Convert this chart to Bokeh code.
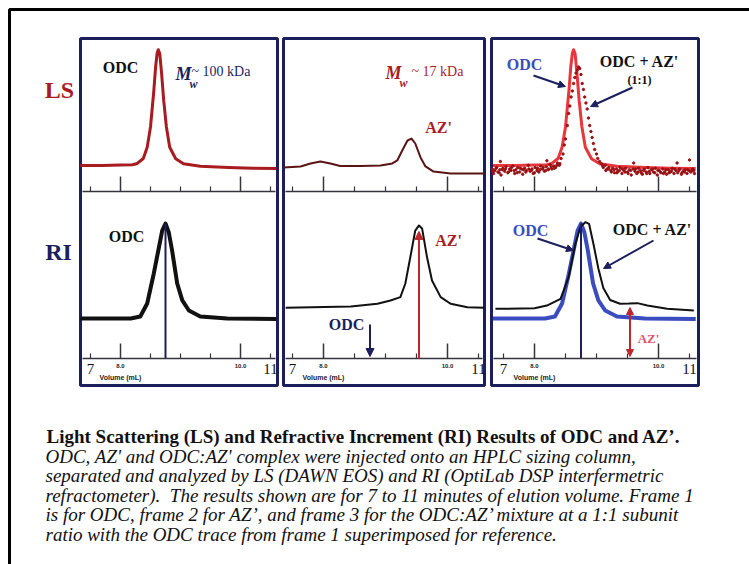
import numpy as np
from bokeh.plotting import figure
from bokeh.models import Range1d, LinearAxis, FixedTicker, NumeralTickFormatter, Arrow, NormalHead
from bokeh.core.properties import value
from bokeh.embed import file_html
from bokeh.resources import INLINE

# ---------------- data ----------------
MAJOR_TICKS = [8.0, 10.0]
MINOR_TICKS = [7.5, 8.5, 9.0, 9.5, 10.5]
END_LABELS = ["7", "11"]
END_LABEL_POS = [7.5, 10.5]
AXIS_TITLE = "Volume (mL)"

# frame 1: ODC  (volume in mL, relative signal)
ODC_LS_V = [7.33, 7.70, 8.00, 8.20, 8.28, 8.38, 8.445, 8.50, 8.555, 8.585, 8.61, 8.63,
            8.655, 8.685, 8.72, 8.765, 8.82, 8.92, 9.05, 9.33, 9.80, 10.20, 10.60]
ODC_LS_S = [0.173, 0.173, 0.176, 0.178, 0.187, 0.22, 0.295, 0.43, 0.67, 0.83, 0.92, 0.945,
            0.918, 0.787, 0.607, 0.43, 0.295, 0.218, 0.185, 0.169, 0.16, 0.155, 0.153]
ODC_RI_V = [7.33, 8.17, 8.33, 8.445, 8.555, 8.64, 8.695, 8.75, 8.805, 8.86, 8.945, 9.03,
            9.14, 9.33, 9.78, 10.60]
ODC_RI_S = [0.267, 0.267, 0.28, 0.367, 0.567, 0.74, 0.853, 0.90, 0.84, 0.72, 0.50, 0.387,
            0.32, 0.28, 0.267, 0.263]

# frame 2: AZ'
AZ_LS_V = [7.36, 7.63, 7.79, 7.95, 8.11, 8.27, 8.60, 8.92, 9.11, 9.19, 9.27, 9.355, 9.42,
           9.48, 9.565, 9.645, 9.775, 10.05, 10.60]
AZ_LS_S = [0.16, 0.167, 0.187, 0.20, 0.187, 0.17, 0.17, 0.173, 0.187, 0.207, 0.273, 0.34,
           0.353, 0.32, 0.227, 0.167, 0.133, 0.12, 0.12]
AZ_RI_V = [7.39, 8.44, 8.87, 9.08, 9.24, 9.32, 9.40, 9.48, 9.54, 9.59, 9.67, 9.75, 9.89,
           10.05, 10.32, 10.59]
AZ_RI_S = [0.338, 0.347, 0.365, 0.387, 0.409, 0.50, 0.675, 0.853, 0.887, 0.867, 0.675, 0.52,
           0.409, 0.365, 0.342, 0.338]

# frame 3: ODC + AZ' (1:1) -- light scattering points
MIX_LS_V = [7.32, 7.34, 7.36, 7.39, 7.41, 7.44, 7.45, 7.46, 7.49, 7.52,
            7.54, 7.57, 7.60, 7.62, 7.65, 7.68, 7.70, 7.73, 7.76, 7.79,
            7.81, 7.84, 7.87, 7.90, 7.93, 7.96, 7.98, 8.01, 8.04, 8.07,
            8.10, 8.13, 8.16, 8.19, 8.20, 8.22, 8.25, 8.28, 8.31, 8.34,
            8.37, 8.40, 8.43, 8.46, 8.48, 8.50, 8.53, 8.55, 8.57, 8.59,
            8.61, 8.63, 8.65, 8.67, 8.69, 8.71, 8.73, 8.75, 8.77, 8.79,
            8.81, 8.83, 8.85, 8.87, 8.89, 8.91, 8.93, 8.95, 8.97, 9.00,
            9.02, 9.05, 9.08, 9.11, 9.14, 9.17, 9.20, 9.23, 9.26, 9.29,
            9.32, 9.35, 9.38, 9.41, 9.44, 9.47, 9.50, 9.53, 9.56, 9.59,
            9.60, 9.62, 9.65, 9.68, 9.71, 9.74, 9.77, 9.80, 9.83, 9.86,
            9.89, 9.92, 9.95, 9.98, 10.01, 10.04, 10.07, 10.10, 10.13, 10.16,
            10.19, 10.22, 10.25, 10.28, 10.30, 10.31, 10.34, 10.37, 10.40, 10.43,
            10.46, 10.49, 10.50, 10.52, 10.55, 10.58,
            7.33, 7.38, 7.43, 7.48, 7.53, 7.58, 7.63, 7.67, 7.72, 7.77, 7.82, 7.86,
            7.91, 7.95, 8.00, 8.05, 8.09, 8.14, 8.18, 8.23, 8.27, 8.32, 8.36, 8.41,
            9.10, 9.15, 9.19, 9.24, 9.28, 9.33, 9.37, 9.42, 9.46, 9.51,
            9.55, 9.63, 9.67, 9.72, 9.76, 9.81, 9.85, 9.90, 9.94, 9.99,
            10.03, 10.08, 10.12, 10.17, 10.21, 10.26, 10.33, 10.38, 10.42, 10.47,
            10.53, 10.57]
MIX_LS_S = [0.150, 0.120, 0.140, 0.160, 0.130, 0.145, 0.200, 0.110, 0.155, 0.135,
            0.165, 0.125, 0.150, 0.140, 0.170, 0.120, 0.145, 0.160, 0.130, 0.150,
            0.115, 0.155, 0.140, 0.175, 0.135, 0.150, 0.120, 0.160, 0.140, 0.130,
            0.170, 0.150, 0.135, 0.165, 0.205, 0.145, 0.180, 0.150, 0.170, 0.160,
            0.190, 0.175, 0.220, 0.250, 0.310, 0.350, 0.440, 0.520, 0.570, 0.630,
            0.670, 0.720, 0.760, 0.790, 0.810, 0.830, 0.820, 0.780, 0.720, 0.680,
            0.630, 0.590, 0.550, 0.490, 0.440, 0.400, 0.360, 0.320, 0.280, 0.250,
            0.220, 0.200, 0.185, 0.160, 0.175, 0.150, 0.160, 0.140, 0.155, 0.125,
            0.150, 0.135, 0.160, 0.120, 0.140, 0.155, 0.130, 0.145, 0.110, 0.150,
            0.190, 0.135, 0.120, 0.155, 0.140, 0.115, 0.150, 0.130, 0.160, 0.120,
            0.145, 0.130, 0.155, 0.110, 0.140, 0.125, 0.150, 0.130, 0.115, 0.145,
            0.130, 0.155, 0.120, 0.140, 0.190, 0.125, 0.150, 0.115, 0.135, 0.145,
            0.120, 0.140, 0.210, 0.130, 0.150, 0.120,
            0.135, 0.155, 0.125, 0.145, 0.150, 0.130, 0.160, 0.140, 0.125, 0.155, 0.145, 0.130,
            0.150, 0.140, 0.125, 0.155, 0.145, 0.160, 0.140, 0.150, 0.165, 0.155, 0.175, 0.185,
            0.170, 0.140, 0.150, 0.130, 0.145, 0.125, 0.140, 0.150, 0.130, 0.120,
            0.140, 0.150, 0.130, 0.125, 0.140, 0.120, 0.135, 0.150, 0.125, 0.140,
            0.130, 0.120, 0.145, 0.125, 0.135, 0.150, 0.140, 0.125, 0.130, 0.145,
            0.135, 0.140]
MIX_RI_V = [7.37, 8.0, 8.2, 8.42, 8.55, 8.66, 8.74, 8.82, 8.88, 8.95, 9.03, 9.11, 9.22,
            9.38, 9.52, 9.66, 9.82, 10.14, 10.57]
MIX_RI_S = [0.331, 0.335, 0.353, 0.398, 0.542, 0.765, 0.875, 0.909, 0.898, 0.765, 0.60,
            0.47, 0.39, 0.365, 0.366, 0.369, 0.353, 0.331, 0.32]

CAPTION_TITLE = "Light Scattering (LS) and Refractive Increment (RI) Results of ODC and AZ\u2019."
CAPTION_LINES = [
    "ODC, AZ' and ODC:AZ' complex were injected onto an HPLC sizing column,",
    "separated and analyzed by LS (DAWN EOS) and RI (OptiLab DSP interfermetric",
    "refractometer).\u00a0 The results shown are for 7 to 11 minutes of elution volume. Frame 1",
    "is for ODC, frame 2 for AZ\u2019, and frame 3 for the ODC:AZ\u2019 mixture at a 1:1 subunit",
    "ratio with the ODC trace from frame 1 superimposed for reference.",
]

# ---------------- styling / layout ----------------
NAVY = "#1c1f5c"
DRED = "#a81c1f"
RED = "#c0262b"
BRED = "#e8373c"
BLUE = "#3a4cc0"
PINK = "#e2566c"
AXC = "#35353f"
SERIF = value("Liberation Serif")
SANS = value("Liberation Sans")

W, H = 749, 564
X0, Y0 = 0, 0
COL_BOX = [(80, 277), (283, 484), (491, 698)]
COL_TICK_PX = [(120, 240), (323, 447), (534, 658)]  # pixel of 8.0 and 10.0
BOX_TOP, BOX_BOTTOM = 38, 385
LS_BASE, RI_BASE = 191, 358
UNIT_PX = 150.0


def mapped_range(d_a, d_b, px_a, px_b, px_start, px_end):
    k = (d_b - d_a) / (px_b - px_a)
    return Range1d(start=d_a + (px_start - px_a) * k, end=d_a + (px_end - px_a) * k)


p = figure(width=W, height=H, x_range=Range1d(X0, X0 + W), y_range=Range1d(Y0 + H, Y0),
           output_backend="svg", toolbar_location=None, min_border=0,
           x_axis_location=None, y_axis_location=None,
           background_fill_color="white", border_fill_color="white")
p.outline_line_color = None
p.xgrid.grid_line_color = None
p.ygrid.grid_line_color = None

p.extra_x_ranges = {f"c{i}": mapped_range(8.0, 10.0, a, b, X0, X0 + W)
                    for i, (a, b) in enumerate(COL_TICK_PX)}
p.extra_y_ranges = {
    "ls": mapped_range(0.0, 1.0, LS_BASE, LS_BASE - UNIT_PX, Y0 + H, Y0),
    "ri": mapped_range(0.0, 1.0, RI_BASE, RI_BASE - UNIT_PX, Y0 + H, Y0),
}

# outer page frame (left & top edges visible)
p.line([9, 9, 760], [600, 9, 9], line_color="black", line_width=3)

# panel boxes
p.quad(left=[b[0] for b in COL_BOX], right=[b[1] for b in COL_BOX],
       top=[BOX_TOP] * 3, bottom=[BOX_BOTTOM] * 3,
       fill_color=None, line_color=NAVY, line_width=3)

# axes (inside the panels)
for i, ((bl, br), (pa, pb)) in enumerate(zip(COL_BOX, COL_TICK_PX)):
    k = 2.0 / (pb - pa)
    lo = 8.0 + (bl + 2 - pa) * k
    hi = 8.0 + (br - 2 - pa) * k
    for base, show in ((LS_BASE, False), (RI_BASE, True)):
        ax = LinearAxis(x_range_name=f"c{i}", fixed_location=base, bounds=(lo, hi),
                        ticker=FixedTicker(ticks=MAJOR_TICKS, minor_ticks=MINOR_TICKS),
                        formatter=NumeralTickFormatter(format="0.0"),
                        major_tick_in=15, major_tick_out=0, minor_tick_in=5, minor_tick_out=0,
                        axis_line_color=AXC, axis_line_width=1.5,
                        major_tick_line_color=AXC, major_tick_line_width=1.5,
                        minor_tick_line_color=AXC, minor_tick_line_width=1.2,
                        major_label_standoff=5, major_label_text_font="Liberation Sans",
                        major_label_text_font_size="6px", major_label_text_font_style="bold",
                        major_label_text_color="#222" if show else None)
        p.add_layout(ax, "below")
    p.text(x=END_LABEL_POS, y=[368, 368], text=END_LABELS, x_range_name=f"c{i}",
           text_font=SERIF, text_font_size="15px", text_color="#111",
           text_align="center", text_baseline="middle")
    p.text(x=[MAJOR_TICKS[0]], y=[377], text=[AXIS_TITLE], x_range_name=f"c{i}",
           text_font=SANS, text_font_size="7px", text_font_style="bold", text_color="#222",
           text_align="center", text_baseline="middle")

# ---------------- traces ----------------
# frame 1
p.line(ODC_LS_V, ODC_LS_S, x_range_name="c0", y_range_name="ls",
       line_color=DRED, line_width=3, line_join="round")
p.line(ODC_RI_V, ODC_RI_S, x_range_name="c0", y_range_name="ri",
       line_color="#111111", line_width=4, line_join="round")
# frame 2
p.line(AZ_LS_V, AZ_LS_S, x_range_name="c1", y_range_name="ls",
       line_color="#5a1414", line_width=2, line_join="round")
p.line(AZ_RI_V, AZ_RI_S, x_range_name="c1", y_range_name="ri",
       line_color="#111111", line_width=2, line_join="round")
# frame 3
p.line(ODC_LS_V, ODC_LS_S, x_range_name="c2", y_range_name="ls",
       line_color=BRED, line_width=3, line_join="round")
p.scatter(MIX_LS_V, MIX_LS_S, x_range_name="c2", y_range_name="ls",
          size=2.4, color="#9a1215")
p.line(ODC_RI_V, ODC_RI_S, x_range_name="c2", y_range_name="ri",
       line_color=BLUE, line_width=4, line_join="round")
p.line(MIX_RI_V, MIX_RI_S, x_range_name="c2", y_range_name="ri",
       line_color="#111111", line_width=2, line_join="round")

# peak markers
odc_i = int(np.argmax(ODC_RI_S))
odc_peak, odc_top = ODC_RI_V[odc_i], ODC_RI_S[odc_i]
az_i = int(np.argmax(AZ_RI_S))
az_peak, az_top = AZ_RI_V[az_i], AZ_RI_S[az_i]

for c in ("c0", "c2"):
    p.segment(x0=[odc_peak], y0=[0], x1=[odc_peak], y1=[odc_top], x_range_name=c,
              y_range_name="ri", line_color=NAVY, line_width=2)

p.add_layout(Arrow(end=NormalHead(size=8, fill_color=RED, line_color=RED),
                   x_start=az_peak, y_start=0, x_end=az_peak, y_end=az_top - 0.04,
                   x_range_name="c1", y_range_name="ri", line_color=RED, line_width=2))
p.add_layout(Arrow(end=NormalHead(size=8, fill_color=NAVY, line_color=NAVY),
                   x_start=odc_peak, y_start=324, x_end=odc_peak, y_end=356,
                   x_range_name="c1", line_color=NAVY, line_width=2))
p.add_layout(Arrow(start=NormalHead(size=7, fill_color=RED, line_color=RED),
                   end=NormalHead(size=7, fill_color=RED, line_color=RED),
                   x_start=az_peak, y_start=356, x_end=az_peak, y_end=307,
                   x_range_name="c2", line_color=RED, line_width=2))

# label pointers (frame 3)
for xs, ys, xe, ye in ((533, 75, 565, 86), (632, 87, 590, 106),
                       (537, 238, 573, 250), (653, 240, 603, 268)):
    p.add_layout(Arrow(end=NormalHead(size=7, fill_color=NAVY, line_color=NAVY),
                       x_start=xs, y_start=ys, x_end=xe, y_end=ye,
                       line_color=NAVY, line_width=2))

# ---------------- texts ----------------
def label(x, y, t, size, color, style="bold", align="center", font=SERIF):
    p.text(x=[x], y=[y], text=[t], text_font=font, text_font_size=size,
           text_font_style=style, text_color=color, text_align=align,
           text_baseline="middle")

label(59, 89, "LS", "24px", DRED)
label(58, 251, "RI", "24px", NAVY)
label(120, 67, "ODC", "16px", "#111")
label(126, 236, "ODC", "16px", "#111")
label(438, 127, "AZ'", "16px", DRED)
label(448, 240, "AZ'", "16px", DRED)
label(346, 324, "ODC", "16px", NAVY)
label(524, 64, "ODC", "16px", BLUE)
label(639, 61, "ODC + AZ'", "16px", "#111")
label(639, 79, "(1:1)", "12px", "#111")
label(530, 230, "ODC", "16px", BLUE)
label(652, 229, "ODC + AZ'", "16px", "#111")
label(648, 338, "AZ'", "13px", PINK)

# molecular weights
label(175, 73, "M", "18px", NAVY, "bold italic", "left")
label(189, 83, "w", "12px", NAVY, "bold italic", "left")
label(191, 71, "~ 100 kDa", "14px", NAVY, "normal", "left")
label(385, 72, "M", "18px", DRED, "bold italic", "left")
label(399, 82, "w", "12px", DRED, "bold italic", "left")
label(411, 71, "~ 17 kDa", "14px", DRED, "normal", "left")

# caption
label(46, 436, CAPTION_TITLE, "19px", "#111", "bold", "left")
p.text(x=[45] * len(CAPTION_LINES), y=[455.5 + 19.5 * i for i in range(len(CAPTION_LINES))],
       text=CAPTION_LINES, text_font=SERIF, text_font_size="19px",
       text_font_style="italic", text_color="#111", text_align="left",
       text_baseline="middle")

open("out.html", "w").write(file_html(p, INLINE))
